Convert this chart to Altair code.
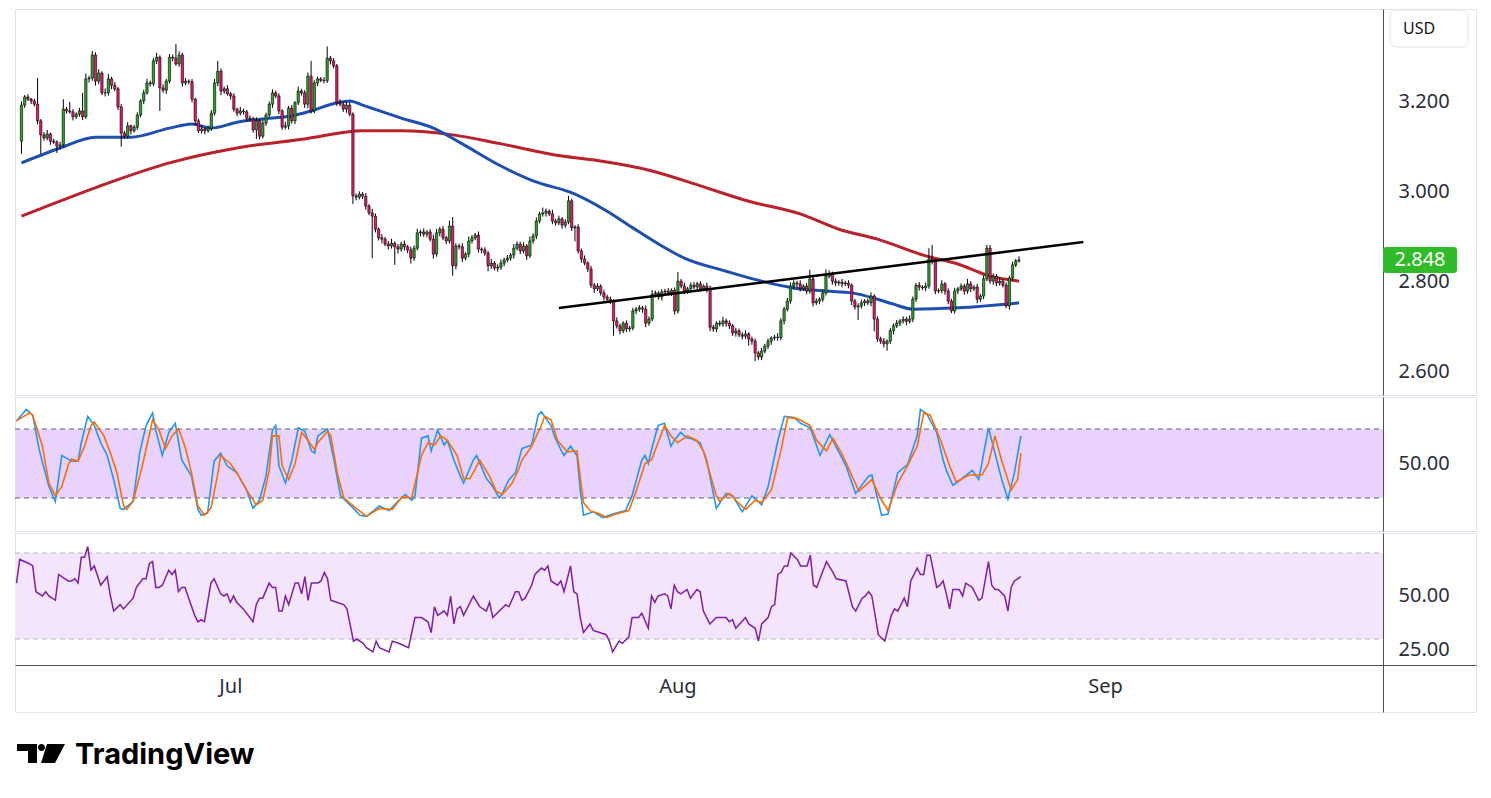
import altair as alt
import pandas as pd

# ---------------- data ----------------
closes = [
    3.191, 3.209, 3.204, 3.200, 3.193, 3.156, 3.125, 3.118, 3.127, 3.111,
    3.109, 3.100, 3.103, 3.182, 3.178, 3.176, 3.165, 3.171, 3.178, 3.165,
    3.249, 3.251, 3.302, 3.244, 3.262, 3.218, 3.218, 3.249, 3.235, 3.227,
    3.187, 3.129, 3.122, 3.145, 3.134, 3.142, 3.169, 3.200, 3.218, 3.240,
    3.238, 3.289, 3.297, 3.229, 3.224, 3.244, 3.297, 3.295, 3.282, 3.302,
    3.240, 3.244, 3.243, 3.204, 3.156, 3.134, 3.138, 3.134, 3.140, 3.173,
    3.240, 3.266, 3.222, 3.227, 3.216, 3.211, 3.182, 3.173, 3.178, 3.176,
    3.162, 3.160, 3.136, 3.156, 3.122, 3.151, 3.169, 3.193, 3.218, 3.211,
    3.178, 3.142, 3.145, 3.184, 3.156, 3.196, 3.222, 3.218, 3.193, 3.255,
    3.178, 3.240, 3.249, 3.246, 3.245, 3.295, 3.289, 3.278, 3.196, 3.193,
    3.182, 3.191, 3.171, 2.990, 2.987, 2.994, 2.989, 2.967, 2.952, 2.945,
    2.916, 2.897, 2.894, 2.883, 2.879, 2.885, 2.877, 2.872, 2.883, 2.877,
    2.870, 2.852, 2.874, 2.908, 2.910, 2.905, 2.910, 2.894, 2.861, 2.908,
    2.916, 2.897, 2.890, 2.923, 2.835, 2.879, 2.877, 2.852, 2.861, 2.890,
    2.897, 2.903, 2.872, 2.870, 2.863, 2.835, 2.841, 2.830, 2.832, 2.841,
    2.848, 2.852, 2.859, 2.874, 2.883, 2.868, 2.879, 2.857, 2.890, 2.901,
    2.934, 2.950, 2.952, 2.956, 2.950, 2.934, 2.930, 2.939, 2.925, 2.932,
    2.979, 2.919, 2.921, 2.868, 2.850, 2.841, 2.828, 2.792, 2.784, 2.790,
    2.775, 2.766, 2.761, 2.757, 2.713, 2.702, 2.691, 2.708, 2.695, 2.697,
    2.735, 2.739, 2.742, 2.739, 2.708, 2.717, 2.772, 2.775, 2.766, 2.777,
    2.779, 2.775, 2.781, 2.735, 2.801, 2.790, 2.779, 2.784, 2.792, 2.788,
    2.795, 2.784, 2.790, 2.784, 2.699, 2.695, 2.708, 2.706, 2.713, 2.708,
    2.702, 2.686, 2.691, 2.682, 2.679, 2.684, 2.673, 2.668, 2.642, 2.633,
    2.646, 2.657, 2.668, 2.675, 2.677, 2.676, 2.713, 2.739, 2.757, 2.790,
    2.797, 2.795, 2.784, 2.790, 2.779, 2.806, 2.753, 2.757, 2.761, 2.775,
    2.812, 2.817, 2.801, 2.797, 2.799, 2.795, 2.797, 2.792, 2.757, 2.744,
    2.746, 2.753, 2.757, 2.753, 2.768, 2.717, 2.673, 2.668, 2.662, 2.668,
    2.691, 2.702, 2.708, 2.713, 2.717, 2.712, 2.717, 2.761, 2.792, 2.788,
    2.786, 2.790, 2.850, 2.846, 2.779, 2.780, 2.795, 2.779, 2.757, 2.735,
    2.779, 2.784, 2.790, 2.779, 2.795, 2.784, 2.788, 2.761, 2.768, 2.806,
    2.874, 2.801, 2.812, 2.797, 2.801, 2.792, 2.746, 2.808, 2.837, 2.846,
    2.848,
]
first_open = 3.111

# upper / lower wick lengths in thousandths of a dollar
wick_up = [
    8, 4, 6, 3, 5, 58, 4, 6, 9, 3,
    5, 4, 7, 22, 5, 20, 6, 4, 7, 40,
    12, 5, 9, 6, 8, 4, 10, 11, 5, 7,
    4, 6, 5, 8, 3, 5, 6, 4, 7, 9,
    5, 6, 10, 4, 8, 5, 7, 6, 31, 8,
    5, 7, 4, 6, 3, 5, 8, 4, 6, 7,
    9, 23, 6, 5, 8, 4, 6, 3, 9, 5,
    4, 6, 5, 8, 4, 7, 5, 6, 8, 5,
    6, 4, 9, 5, 7, 4, 10, 5, 6, 8,
    34, 6, 5, 4, 7, 26, 5, 6, 4, 8,
    5, 7, 6, 4, 5, 6, 4, 7, 5, 9,
    6, 4, 8, 5, 7, 10, 4, 6, 5, 8,
    4, 7, 6, 9, 5, 8, 4, 6, 10, 9,
    5, 7, 4, 12, 20, 6, 5, 8, 4, 10,
    6, 5, 8, 4, 6, 5, 9, 4, 6, 8,
    5, 7, 4, 9, 6, 5, 8, 4, 10, 6,
    8, 5, 12, 6, 4, 9, 5, 7, 4, 6,
    11, 5, 4, 6, 5, 8, 4, 7, 5, 6,
    4, 7, 5, 6, 4, 8, 5, 4, 6, 5,
    7, 5, 6, 4, 8, 6, 9, 5, 4, 6,
    5, 7, 4, 6, 20, 5, 8, 4, 6, 7,
    5, 6, 4, 8, 7, 5, 4, 6, 9, 5,
    6, 4, 7, 5, 6, 8, 4, 5, 6, 4,
    7, 5, 6, 4, 5, 9, 6, 5, 7, 8,
    6, 5, 8, 4, 7, 20, 5, 6, 4, 7,
    15, 8, 5, 6, 4, 7, 5, 6, 4, 5,
    6, 7, 4, 5, 8, 4, 6, 5, 7, 4,
    6, 5, 7, 4, 6, 5, 8, 6, 5, 7,
    4, 8, 24, 31, 6, 5, 8, 4, 6, 5,
    7, 4, 6, 5, 11, 6, 4, 7, 5, 8,
    7, 7, 6, 5, 8, 4, 6, 5, 7, 4,
    8,
]
wick_dn = [
    28, 6, 4, 7, 5, 8, 42, 6, 5, 8,
    4, 15, 7, 5, 6, 4, 8, 5, 6, 7,
    5, 8, 6, 10, 7, 5, 8, 6, 9, 5,
    7, 30, 6, 5, 8, 4, 6, 5, 7, 4,
    6, 5, 7, 51, 6, 8, 5, 7, 4, 6,
    8, 5, 6, 7, 9, 5, 6, 8, 4, 6,
    5, 7, 9, 6, 4, 8, 6, 7, 5, 6,
    8, 5, 6, 20, 7, 5, 6, 4, 8, 5,
    7, 6, 5, 8, 6, 7, 5, 6, 8, 9,
    6, 5, 7, 4, 6, 5, 8, 6, 7, 5,
    6, 8, 5, 18, 7, 5, 6, 8, 5, 93,
    7, 6, 9, 5, 8, 6, 40, 10, 6, 8,
    7, 12, 6, 5, 8, 6, 7, 5, 10, 6,
    8, 5, 7, 6, 22, 8, 6, 9, 5, 7,
    6, 5, 8, 7, 6, 12, 7, 5, 8, 6,
    7, 5, 6, 8, 5, 7, 6, 9, 5, 6,
    7, 5, 6, 8, 5, 7, 6, 5, 8, 6,
    5, 7, 30, 6, 8, 5, 7, 6, 9, 5,
    6, 8, 5, 7, 33, 6, 8, 5, 7, 6,
    5, 7, 6, 8, 9, 6, 5, 7, 6, 8,
    5, 6, 7, 8, 6, 5, 7, 6, 8, 5,
    6, 7, 5, 8, 9, 6, 7, 5, 6, 8,
    7, 6, 8, 5, 7, 6, 15, 8, 18, 6,
    7, 5, 6, 8, 5, 7, 6, 8, 5, 6,
    7, 8, 6, 5, 7, 6, 8, 5, 7, 6,
    6, 5, 8, 7, 6, 8, 5, 7, 9, 6,
    29, 6, 7, 5, 8, 27, 7, 6, 8, 15,
    6, 8, 5, 7, 6, 9, 5, 7, 6, 8,
    5, 7, 6, 8, 7, 5, 6, 8, 7, 5,
    6, 7, 5, 8, 6, 7, 5, 9, 6, 7,
    5, 6, 8, 7, 6, 5, 5, 8, 6, 5,
    4,
]

ma_fast = [(0, 3.063), (12, 3.096), (23, 3.120), (34, 3.120), (46, 3.140), (53, 3.149),
           (59, 3.140), (67, 3.153), (77, 3.162), (84, 3.167), (90, 3.178), (98, 3.196),
           (102, 3.200), (106, 3.191), (118, 3.162), (128, 3.140), (137, 3.105), (149, 3.056),
           (159, 3.023), (172, 2.994), (182, 2.956), (190, 2.919), (199, 2.879), (206, 2.852),
           (219, 2.823), (230, 2.801), (240, 2.786), (250, 2.779), (258, 2.775), (266, 2.761),
           (271, 2.750), (277, 2.739), (291, 2.742), (310, 2.753)]
ma_slow = [(0, 2.945), (4, 2.956), (26, 3.016), (46, 3.063), (67, 3.096), (88, 3.116),
           (106, 3.134), (118, 3.134), (134, 3.125), (149, 3.105), (168, 3.078), (180, 3.067),
           (196, 3.045), (211, 3.012), (226, 2.978), (242, 2.950), (254, 2.916), (266, 2.894),
           (281, 2.857), (291, 2.839), (301, 2.812), (310, 2.801)]
trend = [(167, 2.7415), (330, 2.8877)]

stoch_k = [(0, 87), (3, 97), (5, 92), (7, 62), (10, 30), (12, 17), (14, 57), (17, 52), (19, 52),
           (20, 68), (22, 91), (24, 83), (26, 68), (28, 57), (30, 36), (32, 11), (33, 10), (36, 17),
           (38, 59), (40, 83), (42, 94), (43, 79), (45, 57), (47, 77), (49, 85), (51, 53), (54, 39),
           (56, 10), (57, 5), (59, 7), (61, 52), (63, 59), (65, 48), (68, 42), (71, 27), (73, 11),
           (75, 18), (77, 39), (79, 79), (80, 83), (81, 48), (83, 33), (85, 53), (87, 81), (89, 78),
           (91, 61), (92, 59), (93, 74), (96, 80), (98, 53), (100, 22), (104, 11), (106, 5), (108, 4),
           (112, 13), (115, 9), (118, 18), (120, 23), (122, 18), (123, 22), (125, 72), (127, 74),
           (128, 61), (130, 79), (132, 66), (133, 70), (135, 53), (137, 39), (138, 33), (141, 53),
           (142, 57), (145, 37), (147, 30), (149, 20), (150, 24), (152, 36), (154, 42), (156, 63),
           (159, 66), (161, 92), (162, 95), (165, 83), (166, 74), (168, 62), (169, 57), (171, 65),
           (173, 57), (174, 27), (175, 5), (178, 8), (181, 3), (184, 6), (188, 9), (190, 22),
           (193, 53), (194, 57), (195, 50), (196, 62), (198, 83), (200, 85), (202, 65), (203, 70),
           (205, 77), (207, 72), (208, 72), (211, 68), (213, 53), (216, 11), (219, 24), (221, 22),
           (224, 8), (227, 22), (230, 14), (232, 30), (235, 70), (237, 91), (240, 90), (242, 85),
           (245, 81), (248, 57), (251, 75), (254, 59), (256, 48), (259, 24), (263, 39), (264, 40),
           (267, 5), (269, 6), (272, 42), (275, 49), (278, 74), (279, 97), (281, 93), (284, 77),
           (286, 53), (287, 44), (289, 31), (291, 35), (295, 44), (297, 36), (300, 81), (302, 59),
           (304, 37), (306, 19), (308, 42), (310, 74)]
stoch_d = [(0, 87), (4, 94), (5, 92), (8, 65), (10, 33), (12, 22), (14, 30), (16, 49), (17, 54),
           (19, 52), (21, 65), (23, 83), (24, 86), (27, 74), (29, 59), (31, 42), (33, 14), (34, 10),
           (36, 17), (39, 50), (41, 75), (42, 88), (44, 79), (46, 63), (48, 74), (50, 80), (52, 65),
           (54, 42), (56, 13), (58, 5), (60, 11), (62, 39), (63, 57), (66, 50), (68, 42), (71, 27),
           (74, 14), (76, 18), (78, 44), (79, 74), (81, 74), (82, 48), (84, 36), (86, 50), (88, 77),
           (90, 70), (92, 62), (93, 68), (96, 78), (97, 74), (99, 42), (101, 20), (104, 13), (108, 4),
           (112, 11), (116, 10), (119, 21), (122, 20), (125, 57), (127, 68), (129, 66), (131, 74),
           (133, 70), (136, 57), (138, 37), (140, 37), (143, 53), (146, 39), (148, 26), (150, 23),
           (153, 33), (155, 45), (156, 53), (159, 65), (162, 83), (163, 91), (165, 88), (167, 70),
           (170, 60), (173, 61), (175, 16), (177, 9), (180, 6), (182, 3), (185, 6), (189, 9),
           (191, 24), (194, 50), (196, 53), (198, 68), (200, 83), (202, 74), (204, 68), (207, 74),
           (210, 70), (212, 61), (216, 22), (217, 17), (220, 24), (222, 18), (225, 10), (228, 18),
           (230, 16), (233, 27), (236, 62), (238, 90), (241, 89), (245, 83), (247, 70), (250, 61),
           (252, 72), (255, 57), (260, 26), (264, 36), (267, 18), (269, 9), (272, 33), (275, 48),
           (278, 65), (280, 94), (282, 92), (285, 72), (288, 48), (290, 34), (294, 40), (298, 40),
           (300, 50), (302, 74), (304, 53), (307, 27), (309, 36), (310, 59)]
rsi = [(0, 56), (1, 67), (4, 65), (5, 64), (6, 52), (8, 50), (9, 52), (10, 50), (12, 48), (13, 60),
       (15, 58), (16, 57), (17, 57), (18, 58), (19, 56), (20, 68), (21, 68), (22, 73), (23, 62),
       (24, 64), (26, 55), (27, 57), (28, 59), (29, 50), (30, 43), (32, 46), (33, 44), (36, 49),
       (37, 54), (39, 58), (40, 58), (41, 65), (42, 66), (43, 54), (44, 54), (45, 55), (47, 62),
       (48, 60), (49, 62), (50, 52), (51, 54), (52, 54), (55, 41), (56, 38), (57, 39), (58, 38),
       (60, 56), (61, 58), (63, 51), (64, 50), (65, 51), (66, 47), (67, 50), (68, 47), (70, 44),
       (73, 38), (74, 46), (75, 49), (76, 49), (78, 56), (79, 54), (80, 54), (81, 43), (82, 43),
       (83, 50), (84, 46), (86, 56), (87, 56), (88, 51), (89, 59), (90, 48), (91, 56), (93, 56),
       (94, 57), (95, 61), (96, 58), (97, 48), (99, 47), (101, 46), (102, 44), (104, 29), (105, 30),
       (107, 28), (108, 26), (110, 24), (111, 29), (112, 26), (115, 24), (116, 29), (118, 28),
       (121, 26), (123, 40), (125, 40), (127, 38), (128, 33), (129, 45), (130, 41), (132, 43),
       (133, 41), (134, 50), (135, 37), (136, 44), (137, 45), (138, 41), (141, 50), (143, 45),
       (145, 43), (146, 47), (147, 40), (149, 43), (151, 46), (152, 45), (154, 52), (155, 52),
       (156, 48), (157, 49), (159, 55), (160, 60), (162, 63), (163, 62), (164, 64), (165, 57),
       (167, 55), (168, 57), (169, 52), (171, 64), (172, 52), (173, 51), (174, 40), (175, 33),
       (177, 37), (178, 34), (180, 33), (182, 32), (183, 29), (184, 24), (186, 29), (187, 28),
       (189, 31), (190, 40), (192, 40), (193, 42), (195, 35), (196, 50), (197, 47), (198, 50),
       (200, 51), (201, 50), (202, 44), (203, 55), (204, 52), (205, 51), (207, 53), (208, 49),
       (210, 53), (211, 52), (212, 43), (214, 37), (216, 40), (219, 40), (220, 38), (221, 39),
       (222, 35), (225, 40), (226, 37), (228, 35), (229, 29), (230, 37), (232, 40), (233, 45),
       (234, 46), (235, 60), (236, 61), (237, 64), (238, 64), (239, 70), (241, 67), (242, 64),
       (244, 64), (245, 69), (246, 55), (247, 54), (248, 58), (250, 66), (252, 61), (253, 58),
       (256, 57), (258, 45), (259, 43), (261, 49), (262, 50), (263, 52), (264, 50), (266, 32),
       (268, 29), (270, 41), (271, 44), (272, 43), (274, 49), (275, 45), (276, 57), (278, 63),
       (279, 60), (280, 60), (281, 69), (282, 69), (284, 54), (285, 55), (286, 57), (287, 51),
       (288, 44), (289, 53), (291, 53), (292, 50), (293, 56), (295, 54), (297, 48), (298, 49),
       (300, 66), (301, 55), (302, 53), (303, 53), (305, 50), (306, 43), (307, 54), (308, 57),
       (310, 59)]

price_ticks = [2.6, 2.8, 3.0, 3.2]
stoch_ticks = [50]
rsi_ticks = [25, 50]
stoch_levels = [20, 80]
rsi_levels = [30, 70]
month_bars = [66, 204, 336]
month_names = ["Jul", "Aug", "Sep"]
currency = "USD"
brand = "TradingView"

# ---------------- tables ----------------
opens = [first_open] + closes[:-1]
rows = []
for i, (o, c) in enumerate(zip(opens, closes)):
    rows.append({
        "bar": i, "open": o, "close": c,
        "high": max(o, c) + wick_up[i] / 1000.0,
        "low": min(o, c) - wick_dn[i] / 1000.0,
        "dir": "up" if c >= o else "down",
    })
candles = pd.DataFrame(rows)
fast_df = pd.DataFrame(ma_fast, columns=["bar", "v"])
slow_df = pd.DataFrame(ma_slow, columns=["bar", "v"])
trend_df = pd.DataFrame(trend, columns=["bar", "v"])
k_df = pd.DataFrame(stoch_k, columns=["bar", "v"])
d_df = pd.DataFrame(stoch_d, columns=["bar", "v"])
rsi_df = pd.DataFrame(rsi, columns=["bar", "v"])
last_df = pd.DataFrame({"v": [closes[-1]], "txt": [f"{closes[-1]:.3f}"]})
one_df = pd.DataFrame({"t": [currency]})

# ---------------- layout ----------------
FONT = "Noto Sans"
W = 1461
PX = 3.24
X0 = -0.46
X1 = X0 + W / PX
AXIS_BAR = X0 + 1368 / PX
GREEN = "#27a827"
PINK = "#f2146f"
LABEL_GREEN = "#2fbb2a"
AXIS_COL = "#4c4f59"
TXT_COL = "#2a2e39"

xscale = alt.Scale(domain=[X0, X1], nice=False, zero=False)
X = alt.X("bar:Q", scale=xscale, axis=None)


def yaxis(vals, fmt):
    return alt.Axis(orient="right", offset=-93, values=vals, format=fmt, tickSize=0,
                    labelPadding=15, domainColor=AXIS_COL, domainWidth=1, labelFont=FONT,
                    labelFontSize=20, labelColor=TXT_COL, grid=False, title=None,
                    labelOverlap=False, labelFlush=False)


# ---- price panel ----
ps = alt.Scale(domain=[2.5488, 3.4038], nice=False, zero=False)
pax = yaxis(price_ticks, ".3f")


def YP(f):
    return alt.Y(f"{f}:Q", scale=ps, axis=pax)


wicks = alt.Chart(candles).mark_rule(color="#000000", strokeWidth=1).encode(
    x=X, y=YP("low"), y2=alt.Y2("high"))
bodies = alt.Chart(candles).mark_bar(size=2.3, stroke="#000000", strokeWidth=0.6).encode(
    x=X, y=YP("open"), y2=alt.Y2("close"),
    color=alt.Color("dir:N", scale=alt.Scale(domain=["up", "down"], range=[GREEN, PINK]),
                    legend=None))
slow_line = alt.Chart(slow_df).mark_line(color="#b9222a", strokeWidth=3, interpolate="monotone").encode(
    x=X, y=YP("v"))
fast_line = alt.Chart(fast_df).mark_line(color="#1e4fb0", strokeWidth=3, interpolate="monotone").encode(
    x=X, y=YP("v"))
trend_line = alt.Chart(trend_df).mark_line(color="#000000", strokeWidth=2.6).encode(
    x=X, y=YP("v"))
last_box = alt.Chart(last_df).mark_rect(color=LABEL_GREEN, cornerRadius=3, yOffset=-13, y2Offset=13).encode(
    x=alt.value(1368), x2=alt.value(1442), y=YP("v"), y2=alt.Y2("v"))
last_txt = alt.Chart(last_df).mark_text(color="white", font=FONT, fontSize=20, align="center",
                                        baseline="middle").encode(
    x=alt.value(1405), y=YP("v"), text="txt:N")
usd_box = alt.Chart(one_df).mark_rect(fill="white", stroke="#e0e3eb", strokeWidth=1, cornerRadius=6).encode(
    x=alt.value(1375), x2=alt.value(1453), y=alt.value(1), y2=alt.value(38))
usd_txt = alt.Chart(one_df).mark_text(color="#131722", font=FONT, fontSize=16, align="left",
                                      baseline="middle").encode(
    x=alt.value(1388), y=alt.value(19.5), text="t:N")

price = alt.layer(slow_line, fast_line, wicks, bodies, trend_line, usd_box, usd_txt,
                  last_box, last_txt).properties(width=W, height=386)

# ---- stoch RSI panel ----
ss = alt.Scale(domain=[-8.7, 107.8], nice=False, zero=False)
sax = yaxis(stoch_ticks, ".2f")
band_s = pd.DataFrame({"x0": [X0], "x1": [AXIS_BAR], "lo": [stoch_levels[0]], "hi": [stoch_levels[1]]})
lev_s = pd.DataFrame({"x0": [X0, X0], "x1": [AXIS_BAR, AXIS_BAR], "y": stoch_levels})
s_band = alt.Chart(band_s).mark_rect(color="#e9d2fb").encode(
    x=alt.X("x0:Q", scale=xscale, axis=None), x2=alt.X2("x1"),
    y=alt.Y("lo:Q", scale=ss, axis=sax), y2=alt.Y2("hi"))
s_lev = alt.Chart(lev_s).mark_rule(color="#5d606b", strokeWidth=1, strokeDash=[5, 4]).encode(
    x=alt.X("x0:Q", scale=xscale, axis=None), x2=alt.X2("x1"),
    y=alt.Y("y:Q", scale=ss, axis=sax))
s_k = alt.Chart(k_df).mark_line(color="#2196f3", strokeWidth=1.6).encode(
    x=X, y=alt.Y("v:Q", scale=ss, axis=sax))
s_d = alt.Chart(d_df).mark_line(color="#ff6d00", strokeWidth=1.6).encode(
    x=X, y=alt.Y("v:Q", scale=ss, axis=sax))
stoch = alt.layer(s_band, s_lev, s_k, s_d).properties(width=W, height=134)

# ---- RSI panel (with date axis) ----
rs = alt.Scale(domain=[-3.95, 79.3], nice=False, zero=False)
rax = yaxis(rsi_ticks, ".2f")
expr = "".join(f"datum.value == {b} ? '{n}' : " for b, n in zip(month_bars, month_names)) + "''"
xax = alt.Axis(orient="bottom", offset=-47, values=month_bars, labelExpr=expr, tickSize=0,
               labelPadding=11, domainColor=AXIS_COL, domainWidth=1, labelFont=FONT,
               labelFontSize=20, labelColor=TXT_COL, grid=False, title=None, labelFlush=False)
band_r = pd.DataFrame({"x0": [X0], "x1": [AXIS_BAR], "lo": [rsi_levels[0]], "hi": [rsi_levels[1]]})
lev_r = pd.DataFrame({"x0": [X0, X0], "x1": [AXIS_BAR, AXIS_BAR], "y": rsi_levels})
r_band = alt.Chart(band_r).mark_rect(color="#f3e6fc").encode(
    x=alt.X("x0:Q", scale=xscale, axis=xax), x2=alt.X2("x1"),
    y=alt.Y("lo:Q", scale=rs, axis=rax), y2=alt.Y2("hi"))
r_lev = alt.Chart(lev_r).mark_rule(color="#b2b5be", strokeWidth=1, strokeDash=[5, 4]).encode(
    x=alt.X("x0:Q", scale=xscale, axis=xax), x2=alt.X2("x1"),
    y=alt.Y("y:Q", scale=rs, axis=rax))
r_line = alt.Chart(rsi_df).mark_line(color="#7e1fa6", strokeWidth=1.5).encode(
    x=alt.X("bar:Q", scale=xscale, axis=xax), y=alt.Y("v:Q", scale=rs, axis=rax))
rsi_panel = alt.layer(r_band, r_lev, r_line).properties(width=W, height=179)

# ---- brand row ----
logo_path = ("M-1,-0.396 H-0.167 V0.396 H-0.542 V-0.104 H-1 Z "
             "M-0.125,-0.25 a0.146,0.146 0 1,0 0.292,0 a0.146,0.146 0 1,0 -0.292,0 Z "
             "M0.25,-0.396 H1 L0.583,0.396 H0 Z")
logo_mark = alt.Chart(one_df).mark_point(shape=logo_path, filled=True, color="#000000", opacity=1,
                                         size=2304, strokeWidth=0).encode(
    x=alt.value(26), y=alt.value(15.5))
logo_txt = alt.Chart(one_df).mark_text(text=brand, font="Inter", fontSize=29, fontWeight="bold",
                                       color="#000000", align="left", baseline="alphabetic").encode(
    x=alt.value(60), y=alt.value(26))
logo = alt.layer(logo_mark, logo_txt).properties(width=300, height=40,
                                                 view=alt.ViewBackground(strokeOpacity=0))

panels = alt.vconcat(price, stoch, rsi_panel, spacing=0)
chart = alt.vconcat(panels, logo, spacing=25).properties(
    padding={"left": 4, "top": 0, "right": 5, "bottom": 5}
).configure(background="white").configure_view(stroke="#e0e3eb", strokeWidth=1)

chart.save("out.html", embed_options={"renderer": "svg", "actions": False})
